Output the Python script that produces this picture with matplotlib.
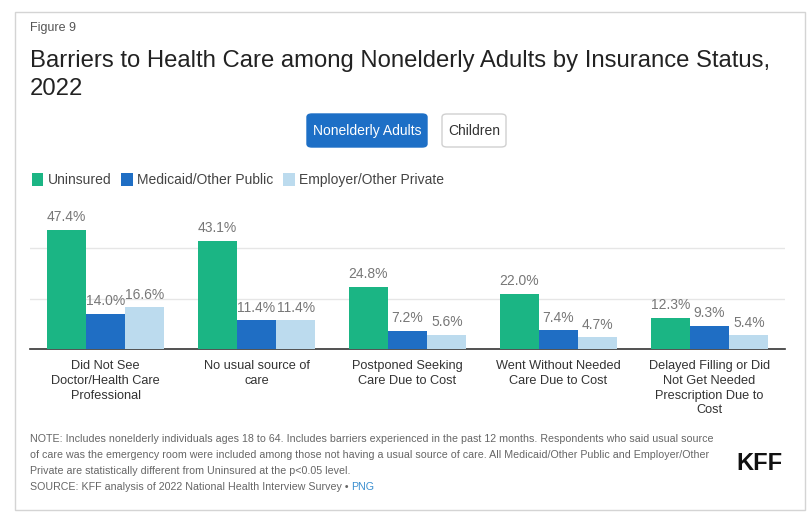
import numpy as np
import matplotlib.pyplot as plt
from matplotlib.patches import FancyBboxPatch, Rectangle

plt.rcParams['font.family'] = ['Liberation Sans', 'DejaVu Sans']

categories = [
    "Did Not See\nDoctor/Health Care\nProfessional",
    "No usual source of\ncare",
    "Postponed Seeking\nCare Due to Cost",
    "Went Without Needed\nCare Due to Cost",
    "Delayed Filling or Did\nNot Get Needed\nPrescription Due to\nCost",
]
series_names = ["Uninsured", "Medicaid/Other Public", "Employer/Other Private"]
uninsured = [47.4, 43.1, 24.8, 22.0, 12.3]
medicaid = [14.0, 11.4, 7.2, 7.4, 9.3]
employer = [16.6, 11.4, 5.6, 4.7, 5.4]
colors = ["#1bb584", "#1f6ec4", "#bcdbee"]

fig = plt.figure(figsize=(8.11, 5.2), dpi=100)

# outer frame
fig.patches.append(Rectangle((15 / 811, 1 - 510 / 520), 790 / 811, 498 / 520,
                             transform=fig.transFigure, fill=False,
                             edgecolor="#d4d4d4", linewidth=1))

fig.text(30 / 811, 1 - 28 / 520, "Figure 9", fontsize=9, color="#555555", va="center")
fig.text(30 / 811, 1 - 61 / 520, "Barriers to Health Care among Nonelderly Adults by Insurance Status,",
         fontsize=17.2, color="#222222", va="center")
fig.text(30 / 811, 1 - 89 / 520, "2022", fontsize=17.2, color="#222222", va="center")

# toggle buttons
fig.patches.append(FancyBboxPatch((307 / 811, 1 - 147 / 520), 120 / 811, 33 / 520,
                                  boxstyle="round,pad=0,rounding_size=0.006",
                                  transform=fig.transFigure, facecolor="#1d6fc6",
                                  edgecolor="#1d6fc6"))
fig.text(367 / 811, 1 - 131 / 520, "Nonelderly Adults", fontsize=10, color="white",
         ha="center", va="center")
fig.patches.append(FancyBboxPatch((442 / 811, 1 - 147 / 520), 64 / 811, 33 / 520,
                                  boxstyle="round,pad=0,rounding_size=0.006",
                                  transform=fig.transFigure, facecolor="white",
                                  edgecolor="#d0d0d0"))
fig.text(474 / 811, 1 - 131 / 520, "Children", fontsize=10, color="#333333",
         ha="center", va="center")

ax = fig.add_axes([30 / 811, 1 - 349 / 520, 755 / 811, 151 / 520])
x = np.arange(len(categories))
w = 0.26
bars = []
for i, (vals, name) in enumerate(zip([uninsured, medicaid, employer], series_names)):
    b = ax.bar(x + (i - 1) * w, vals, w, color=colors[i], label=name, zorder=3)
    ax.bar_label(b, labels=[f"{v:.1f}%" for v in vals], padding=4,
                 fontsize=10, color="#777777")
    bars.append(b)

ax.set_xlim(-0.5, len(categories) - 0.5)
ax.set_ylim(0, 60)
ax.set_yticks([20, 40])
ax.tick_params(axis="y", length=0, labelleft=False)
ax.grid(axis="y", color="#e6e6e6", linewidth=1, zorder=0)
ax.set_xticks(x)
ax.set_xticklabels(categories, fontsize=9.2, color="#333333", linespacing=1.3)
ax.tick_params(axis="x", length=0, pad=8)
for s in ["top", "right", "left"]:
    ax.spines[s].set_visible(False)
ax.spines["bottom"].set_color("#333333")
ax.spines["bottom"].set_linewidth(1.2)

fig.legend(handles=bars, labels=series_names, loc="center left",
           bbox_to_anchor=(19 / 811, 1 - 180 / 520), ncol=3, frameon=False,
           fontsize=10, handlelength=0.85, handleheight=1.1, handletextpad=0.3,
           columnspacing=0.7, labelcolor="#444444")

note = ("NOTE: Includes nonelderly individuals ages 18 to 64. Includes barriers experienced in the past 12 months. Respondents who said usual source\n"
        "of care was the emergency room were included among those not having a usual source of care. All Medicaid/Other Public and Employer/Other\n"
        "Private are statistically different from Uninsured at the p<0.05 level.")
fig.text(30 / 811, 1 - 434 / 520, note, fontsize=7.7, color="#666666", va="top", linespacing=1.75)
src = fig.text(30 / 811, 1 - 487 / 520, "SOURCE: KFF analysis of 2022 National Health Interview Survey \u2022 ",
               fontsize=7.7, color="#666666", va="center")
fig.canvas.draw()
bb = src.get_window_extent().transformed(fig.transFigure.inverted())
fig.text(bb.x1, 1 - 487 / 520, "PNG", fontsize=7.7, color="#3a8fd0", va="center")
fig.text(782 / 811, 1 - 463 / 520, "KFF", fontsize=17, fontweight="bold", color="#111111",
         ha="right", va="center")

fig.savefig("out.png", dpi=100)
plt.close()
